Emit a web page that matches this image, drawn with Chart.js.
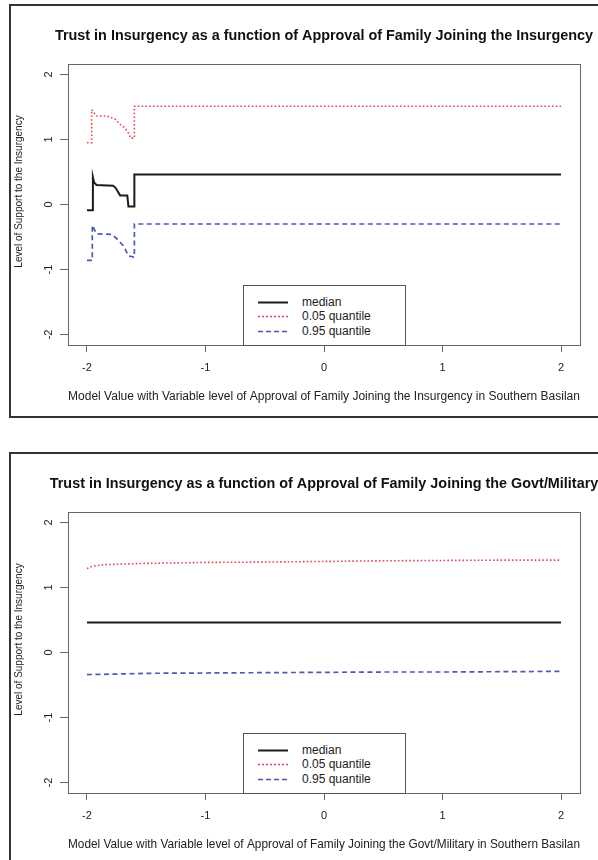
<!DOCTYPE html>
<html>
<head>
<meta charset="utf-8">
<script src="https://cdn.jsdelivr.net/npm/chart.js@4.4.1/dist/chart.umd.min.js"></script>
<style>
  html, body { margin: 0; padding: 0; background: #fff; overflow: hidden; width: 598px; height: 860px; }
  body { position: relative; font-family: "Liberation Sans", Arial, sans-serif; }
  .panel { position: absolute; left: 0; width: 598px; height: 420px; }
  .panel canvas { position: absolute; left: 0; top: 0; }
  .frame { position: absolute; left: 9px; top: 4px; width: 700px; height: 410px; border: 2px solid #333; }
  .legend { position: absolute; left: 243px; top: 285px; width: 161px; height: 59px; border: 1px solid #555; background: #fff; }
  .legend .row { position: absolute; left: 0; width: 161px; height: 15px; line-height: 15px; font-size: 12px; color: #222; }
  .legend svg { position: absolute; left: 14px; top: 0; }
  .legend span { position: absolute; left: 58px; white-space: nowrap; }
</style>
</head>
<body>

<div class="panel" style="top:0px">
  <canvas id="chart-insurgency" width="598" height="420"></canvas>
  <div class="frame"></div>
  <div class="legend" id="legend-insurgency"></div>
</div>

<div class="panel" style="top:448px">
  <canvas id="chart-military" width="598" height="420"></canvas>
  <div class="frame"></div>
  <div class="legend" id="legend-military"></div>
</div>

<script>
// ticks
const xTicks = [-2, -1, 0, 1, 2];
const yTicks = [-2, -1, 0, 1, 2];

// legend
const seriesNames = ['median', '0.05 quantile', '0.95 quantile'];
const seriesColors = ['#1c1c1c', '#e5464f', '#4a5ab6'];

// panel 1 - approval of family joining the insurgency (step shaped)
const medianX1 = [-2.0, -1.95, -1.95, -1.94, -1.92, -1.78, -1.76, -1.74, -1.72, -1.66, -1.65, -1.60, -1.60, 2.0];
const medianY1 = [-0.09, -0.09, 0.42, 0.34, 0.30, 0.29, 0.26, 0.20, 0.14, 0.14, -0.03, -0.03, 0.46, 0.46];
const q05X1 = [-2.0, -1.96, -1.96, -1.92, -1.83, -1.76, -1.72, -1.68, -1.65, -1.63, -1.60, -1.60, 2.0];
const q05Y1 = [0.95, 0.95, 1.46, 1.36, 1.36, 1.31, 1.23, 1.18, 1.10, 1.02, 1.02, 1.51, 1.51];
const q95X1 = [-2.0, -1.955, -1.955, -1.92, -1.79, -1.74, -1.69, -1.65, -1.60, -1.60, 2.0];
const q95Y1 = [-0.86, -0.86, -0.32, -0.45, -0.46, -0.54, -0.64, -0.79, -0.81, -0.30, -0.30];

// panel 2 - approval of family joining the govt/military
const medianX2 = [-2, -1, 0, 1, 2];
const medianY2 = [0.46, 0.46, 0.46, 0.46, 0.46];
const q05X2 = [-2, -1.95, -1.85, -1.7, -1.5, -1.0, -0.5, 0, 0.5, 1.0, 1.5, 2.0];
const q05Y2 = [1.29, 1.33, 1.35, 1.36, 1.37, 1.385, 1.39, 1.40, 1.41, 1.415, 1.42, 1.42];
const q95X2 = [-2, -1.7, -1.5, -1, -0.5, 0, 0.5, 1, 1.5, 2];
const q95Y2 = [-0.34, -0.33, -0.32, -0.315, -0.31, -0.305, -0.30, -0.30, -0.295, -0.29];

const FONT = '"Liberation Sans", Arial, sans-serif';

function toPoints(xs, ys) {
    return xs.map((x, i) => ({ x: x, y: ys[i] }));
}

// plot box + main title + y label, drawn like R's plot()
const plotDecor = {
    id: 'plotDecor',
    afterDraw(chart, args, opts) {
        const ctx = chart.ctx;
        const a = chart.chartArea;
        ctx.save();
        ctx.strokeStyle = '#666';
        ctx.lineWidth = 1;
        ctx.strokeRect(a.left + 0.5, a.top + 0.5, a.right - a.left, a.bottom - a.top);

        ctx.fillStyle = '#111';
        ctx.textAlign = 'center';
        ctx.textBaseline = 'middle';
        ctx.font = 'bold 14.4px ' + FONT;
        ctx.fillText(opts.title, (a.left + a.right) / 2, 36);

        ctx.font = '10px ' + FONT;
        ctx.fillStyle = '#222';
        ctx.translate(19, 191.5);
        ctx.rotate(-Math.PI / 2);
        ctx.fillText(opts.yLabel, 0, 0);
        ctx.restore();
    }
};

function makeChart(canvasId, title, xLabel, median, q05, q95) {
    return new Chart(document.getElementById(canvasId), {
        type: 'line',
        data: {
            datasets: [{
                label: seriesNames[0],
                data: median,
                borderColor: seriesColors[0],
                borderWidth: 2,
                pointRadius: 0,
                tension: 0
            }, {
                label: seriesNames[1],
                data: q05,
                borderColor: seriesColors[1],
                borderWidth: 1.6,
                borderDash: [1.6, 2.2],
                pointRadius: 0,
                tension: 0
            }, {
                label: seriesNames[2],
                data: q95,
                borderColor: seriesColors[2],
                borderWidth: 1.7,
                borderDash: [5, 3.5],
                pointRadius: 0,
                tension: 0
            }]
        },
        options: {
            responsive: false,
            animation: false,
            layout: { padding: { top: 64, left: 10, right: 18, bottom: 3 } },
            scales: {
                x: {
                    type: 'linear',
                    min: -2.16,
                    max: 2.16,
                    afterBuildTicks: s => { s.ticks = xTicks.map(v => ({ value: v })); },
                    afterFit: s => { s.height = 72; },
                    border: { display: false },
                    grid: { drawOnChartArea: false, tickLength: 7, color: '#666' },
                    ticks: { font: { family: FONT, size: 11 }, color: '#222', padding: 9, maxRotation: 0 },
                    title: {
                        display: true,
                        text: xLabel,
                        color: '#222',
                        font: { family: FONT, size: 12 },
                        padding: { top: 0, bottom: 13 }
                    }
                },
                y: {
                    type: 'linear',
                    min: -2.16,
                    max: 2.16,
                    afterBuildTicks: s => { s.ticks = yTicks.map(v => ({ value: v })); },
                    afterFit: s => { s.width = 58; },
                    border: { display: false },
                    grid: { drawOnChartArea: false, tickLength: 8, color: '#666' },
                    ticks: {
                        font: { family: FONT, size: 11 },
                        color: '#222',
                        minRotation: 90,
                        maxRotation: 90,
                        crossAlign: 'center',
                        padding: 6
                    }
                }
            },
            plugins: {
                legend: { display: false },
                tooltip: { enabled: false },
                plotDecor: { title: title, yLabel: 'Level of Support to the Insurgency' }
            }
        },
        plugins: [plotDecor]
    });
}

function buildLegend(id) {
    const dash = ['', '2,2', '5,3'];
    const widths = [2, 1.6, 1.6];
    let html = '';
    seriesNames.forEach((name, i) => {
        const top = 8.5 + i * 14.8;
        html += `<div class="row" style="top:${top}px">
            <svg width="30" height="15"><line x1="0" y1="7.5" x2="30" y2="7.5" stroke="${seriesColors[i]}" stroke-width="${widths[i]}" stroke-dasharray="${dash[i]}"/></svg>
            <span>${name}</span>
        </div>`;
    });
    document.getElementById(id).innerHTML = html;
}

makeChart('chart-insurgency',
    'Trust in Insurgency as a function of Approval of Family Joining the Insurgency',
    'Model Value with Variable level of Approval of Family Joining the Insurgency in Southern Basilan',
    toPoints(medianX1, medianY1), toPoints(q05X1, q05Y1), toPoints(q95X1, q95Y1));

makeChart('chart-military',
    'Trust in Insurgency as a function of Approval of Family Joining the Govt/Military',
    'Model Value with Variable level of Approval of Family Joining the Govt/Military in Southern Basilan',
    toPoints(medianX2, medianY2), toPoints(q05X2, q05Y2), toPoints(q95X2, q95Y2));

buildLegend('legend-insurgency');
buildLegend('legend-military');
</script>
</body>
</html>
